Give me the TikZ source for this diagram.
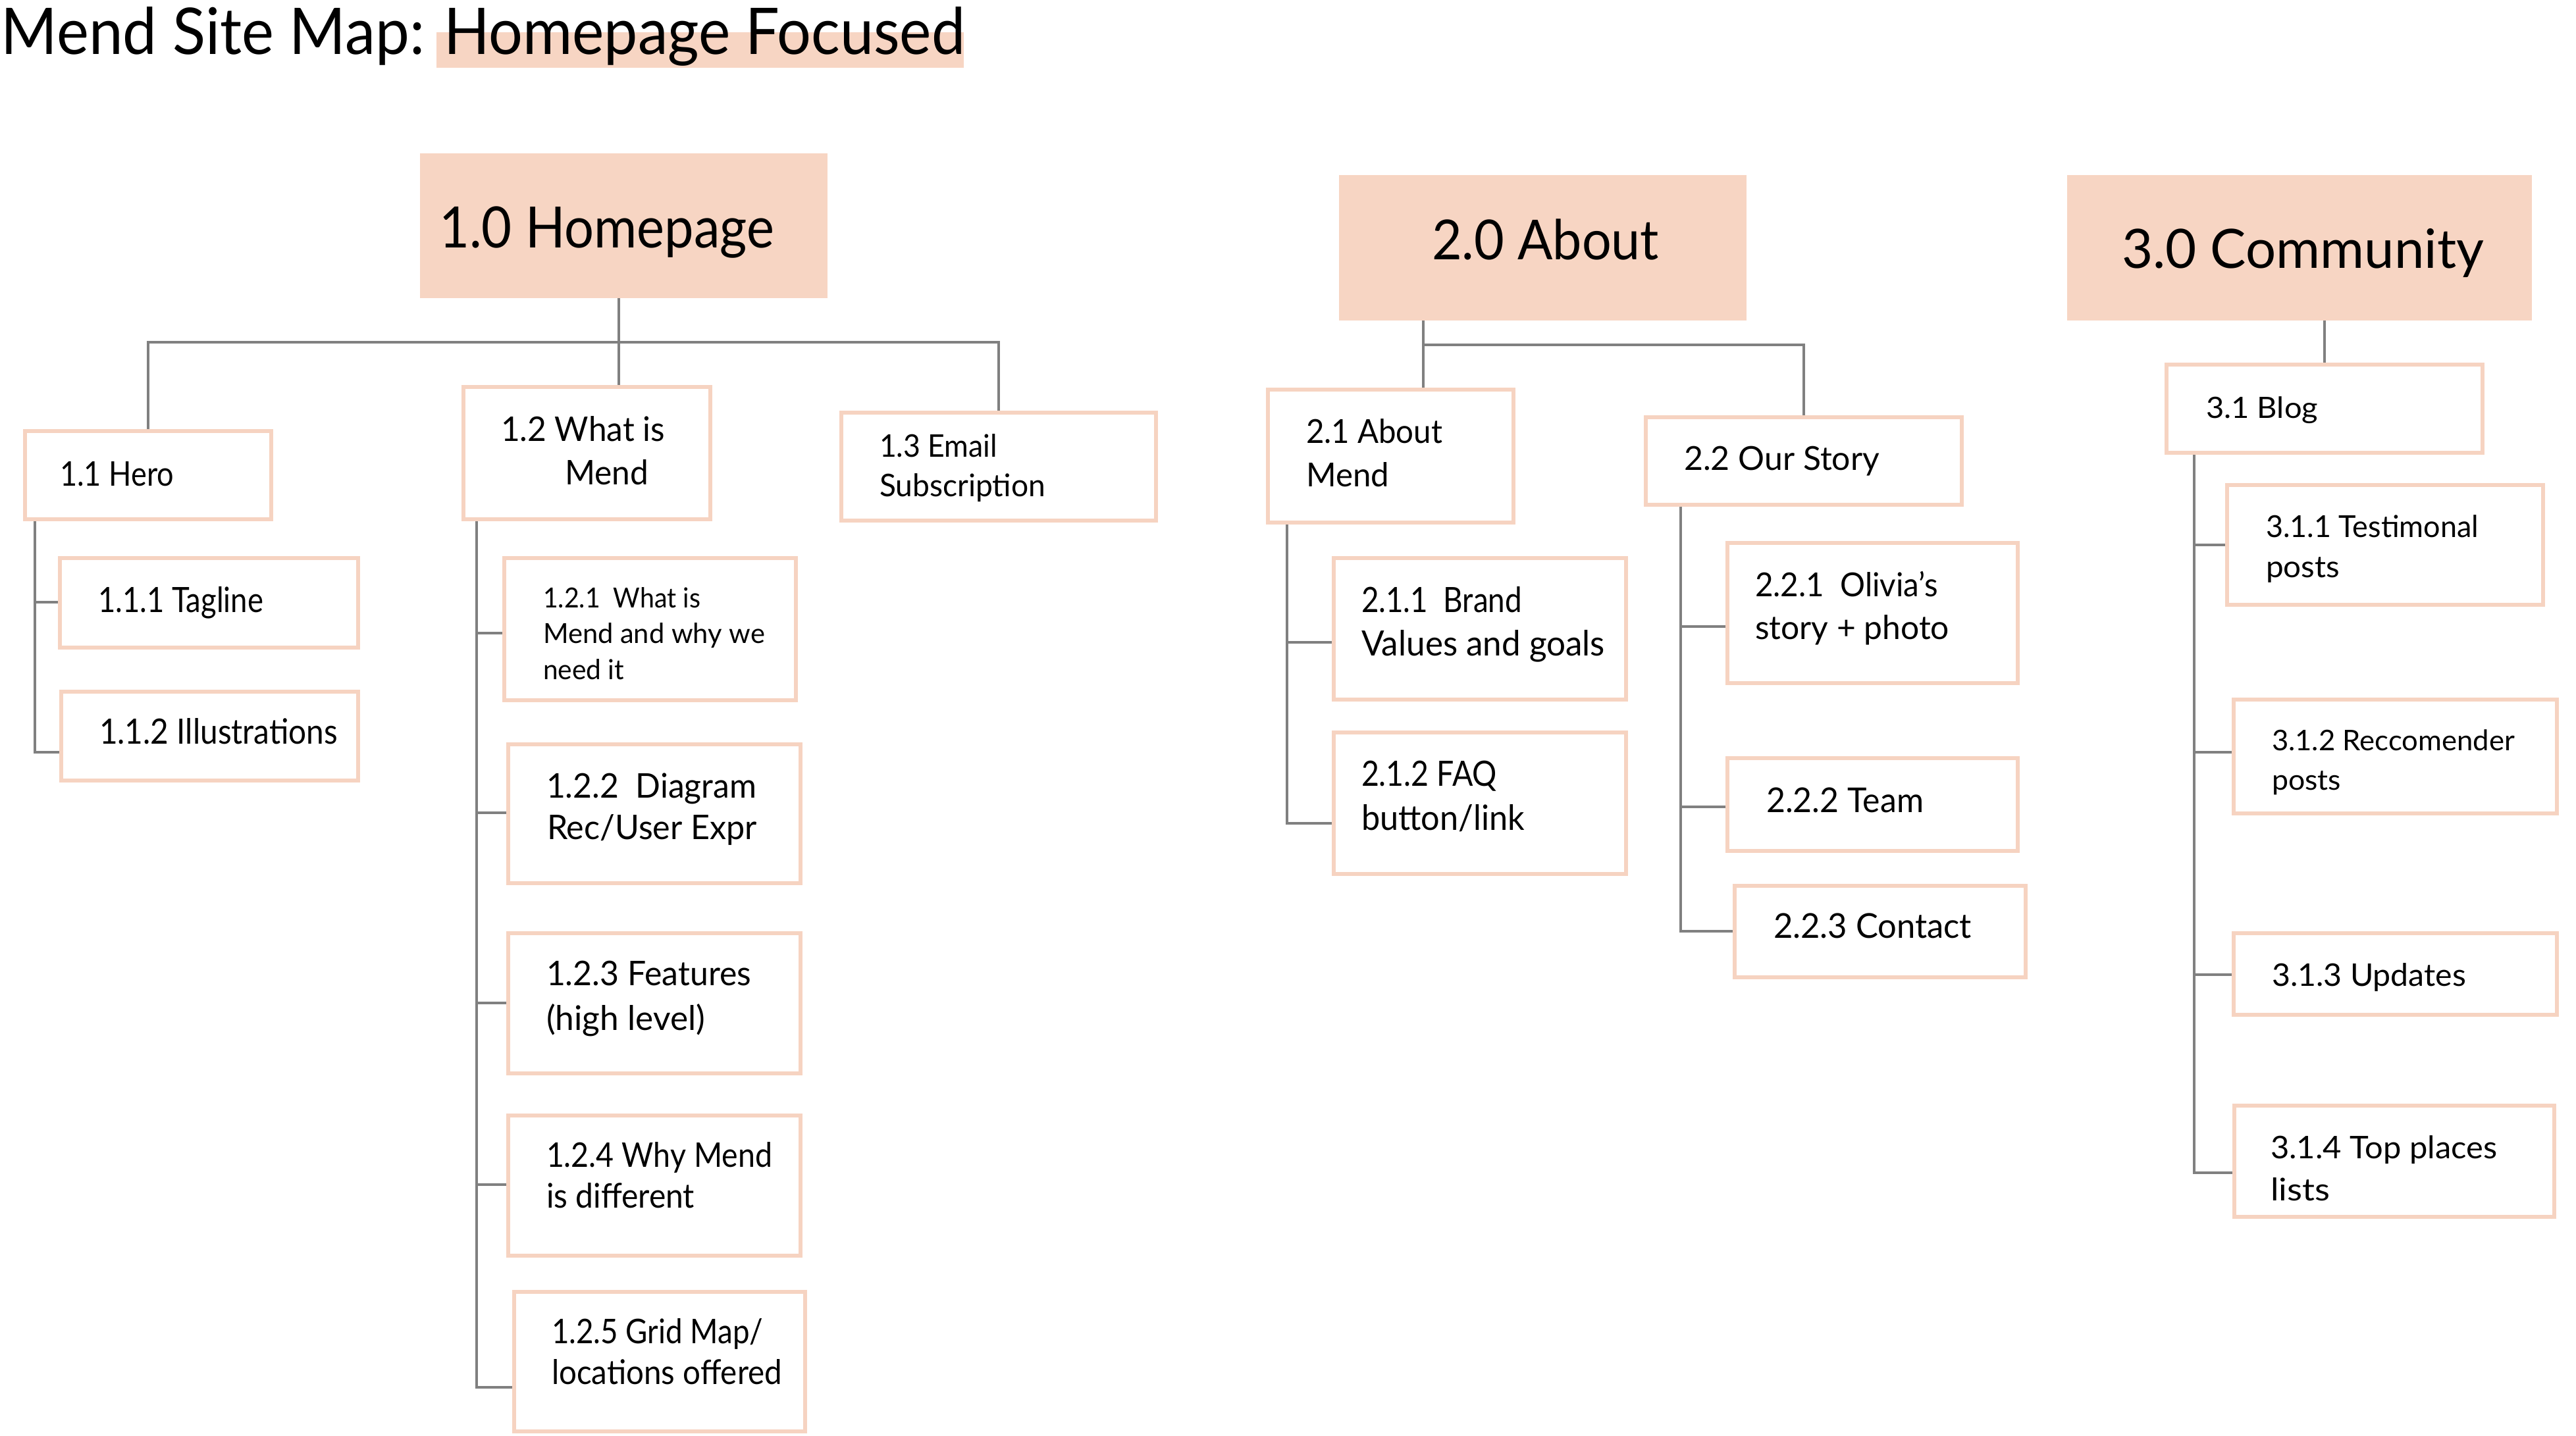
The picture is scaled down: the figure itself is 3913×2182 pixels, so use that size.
\documentclass[tikz,border=0pt]{standalone}
\usepackage{fontspec}
\usepackage{graphicx}
\setmainfont{Lato}
\definecolor{peach}{HTML}{F7D5C3}
\definecolor{edge}{HTML}{F6D3C1}
\definecolor{wire}{HTML}{808080}
\pgfdeclarelayer{bg}
\pgfsetlayers{bg,main}
\newlength\fitlen
\newcommand\fitto[2]{\settowidth{\fitlen}{#2}\pgfmathsetmacro\fitfac{#1*0.5/\fitlen}\scalebox{\fitfac}[1]{#2}}
\newcommand\fsz[1]{\fontsize{#1pt}{#1pt}\selectfont}
\newcommand\tline[6]{\node[txt,font=\fsz{#5}] (#1) at (#2,#3) {\fitto{#4}{#6}};}
\newcommand\mybox[6]{\pgfmathsetmacro\bw{(#5-#3-6)*0.5}\pgfmathsetmacro\bh{(#6-#4-6)*0.5}\node[#1,minimum width=\bw pt,minimum height=\bh pt] (#2) at ({(#3+#5)/2},{(#4+#6)/2}) {};}
\tikzset{
  lvl1/.style={rectangle, fill=peach, draw=peach, line width=3pt, inner sep=0pt, outer sep=0pt},
  lvl2/.style={rectangle, fill=white, draw=edge, line width=3pt, inner sep=0pt, outer sep=0pt},
  conn/.style={draw=wire, line width=2pt},
  txt/.style={anchor=base west, inner sep=0pt, outer sep=0pt, text=black},
}
\begin{document}
\begin{tikzpicture}[x=0.5pt,y=-0.5pt]
\useasboundingbox (0,0) rectangle (3913,2182);

% title
\tline{title1}{2}{83}{643}{48.9}{Mend Site Map:}
\tline{title2}{674}{83}{792}{48.9}{Homepage Focused}

% level 1
\mybox{lvl1}{h10}{638}{233}{1257}{453}
\mybox{lvl1}{h20}{2034}{266}{2653}{487}
\mybox{lvl1}{h30}{3140}{266}{3846}{487}
% level 2
\mybox{lvl2}{h11}{35}{652}{415}{792}
\mybox{lvl2}{h12}{701}{585}{1082}{792}
\mybox{lvl2}{h13}{1275}{624}{1759}{794}
\mybox{lvl2}{h21}{1923}{589}{2302}{797}
\mybox{lvl2}{h22}{2497}{631}{2983}{770}
\mybox{lvl2}{h31}{3288}{551}{3774}{691}
% level 3
\mybox{lvl2}{t111}{88}{845}{547}{987}
\mybox{lvl2}{t112}{90}{1048}{547}{1189}
\mybox{lvl2}{t121}{763}{845}{1212}{1067}
\mybox{lvl2}{t122}{769}{1128}{1219}{1345}
\mybox{lvl2}{t123}{769}{1415}{1219}{1634}
\mybox{lvl2}{t124}{769}{1692}{1219}{1911}
\mybox{lvl2}{t125}{778}{1960}{1226}{2178}
\mybox{lvl2}{t211}{2023}{845}{2473}{1066}
\mybox{lvl2}{t212}{2023}{1110}{2473}{1331}
\mybox{lvl2}{t221}{2621}{822}{3068}{1041}
\mybox{lvl2}{t222}{2621}{1149}{3068}{1296}
\mybox{lvl2}{t223}{2632}{1343}{3080}{1488}
\mybox{lvl2}{t311}{3380}{734}{3866}{922}
\mybox{lvl2}{t312}{3390}{1060}{3887}{1239}
\mybox{lvl2}{t313}{3390}{1415}{3887}{1545}
\mybox{lvl2}{t314}{3391}{1677}{3883}{1852}

% texts
\tline{l10}{667}{377}{509}{43.3}{1.0 Homepage}
\tline{l20}{2175}{395}{345}{41.9}{2.0 About}
\tline{l30}{3223}{408}{550}{41.2}{3.0 Community}
\tline{l11}{91}{738}{173}{25.8}{1.1 Hero}
\tline{l12a}{761}{670}{249}{25.8}{1.2 What is}
\tline{l12b}{858}{736}{127}{25.8}{Mend}
\tline{l13a}{1336}{694}{179}{23.7}{1.3 Email}
\tline{l13b}{1336}{754}{252}{23.7}{Subscription}
\tline{l21a}{1984}{673}{207}{25.1}{2.1 About}
\tline{l21b}{1984}{739}{126}{25.1}{Mend}
\tline{l22}{2558}{714}{297}{25.1}{2.2 Our Story}
\tline{l31}{3351}{635}{170}{22.3}{3.1 Blog}
\tline{l111}{149}{930}{251}{26.5}{1.1.1 Tagline}
\tline{l112}{151}{1130}{362}{26.5}{1.1.2 Illustrations}
\tline{l121a}{825}{923}{239}{21}{1.2.1~ What is}
\tline{l121b}{825}{977}{337}{21}{Mend and why we}
\tline{l121c}{825}{1032}{123}{21}{need it}
\tline{l122a}{830}{1212}{319}{25.8}{1.2.2~ Diagram}
\tline{l122b}{831}{1275}{319}{25.8}{Rec/User Expr}
\tline{l123a}{830}{1497}{311}{25.8}{1.2.3 Features}
\tline{l123b}{830}{1565}{241}{25.8}{(high level)}
\tline{l124a}{830}{1773}{343}{25.8}{1.2.4 Why Mend}
\tline{l124b}{830}{1835}{225}{25.8}{is different}
\tline{l125a}{838}{2041}{321}{25.8}{1.2.5 Grid Map/}
\tline{l125b}{838}{2103}{350}{25.8}{locations offered}
\tline{l211a}{2068}{930}{244}{26.5}{2.1.1~ Brand}
\tline{l211b}{2068}{996}{370}{26.5}{Values and goals}
\tline{l212a}{2068}{1194}{206}{26.5}{2.1.2 FAQ}
\tline{l212b}{2068}{1261}{248}{26.5}{button/link}
\tline{l221a}{2666}{906}{278}{25.1}{2.2.1~ Olivia’s}
\tline{l221b}{2666}{971}{295}{25.1}{story + photo}
\tline{l222}{2683}{1234}{239}{26}{2.2.2 Team}
\tline{l223}{2694}{1425}{301}{26}{2.2.3 Contact}
\tline{l311a}{3442}{816}{323}{23}{3.1.1 Testimonal}
\tline{l311b}{3442}{877}{112}{23}{posts}
\tline{l312a}{3451}{1140}{369}{21.6}{3.1.2 Reccomender}
\tline{l312b}{3451}{1200}{105}{21.6}{posts}
\tline{l313}{3451}{1498}{295}{23.7}{3.1.3 Updates}
\tline{l314a}{3449}{1760}{344}{23.7}{3.1.4 Top places}
\tline{l314b}{3449}{1824}{90}{23.7}{lists}

% junction coordinates
\coordinate (j1) at (940,520);
\coordinate (j2) at (2162,524);
\coordinate (a1) at (53,915);   \coordinate (a2) at (53,1143);
\coordinate (c1) at (724,962);  \coordinate (c2) at (724,1235);
\coordinate (c3) at (724,1524); \coordinate (c4) at (724,1800);
\coordinate (c5) at (724,2108);
\coordinate (d1) at (1955,976); \coordinate (d2) at (1955,1251);
\coordinate (e1) at (2553,952); \coordinate (e2) at (2553,1226);
\coordinate (e3) at (2553,1415);
\coordinate (f1) at (3333,828); \coordinate (f2) at (3333,1143);
\coordinate (f3) at (3333,1481); \coordinate (f4) at (3333,1782);

\begin{pgfonlayer}{bg}
  \fill[white] (0,0) rectangle (3913,2182);
  \fill[peach] (663,49) rectangle (1464,103);
  % homepage
  \draw[conn] (h10.south -| j1) -- (h12.north -| j1);
  \draw[conn] (h11.north) -- (h11.north |- j1) -- (h13.north |- j1) -- (h13.north);
  % about
  \draw[conn] (h20.south -| j2) -- (h21.north -| j2);
  \draw[conn] (j2) -- (h22.north |- j2) -- (h22.north);
  % community
  \draw[conn] (h30.south -| h31.north) -- (h31.north);
  % hero children
  \draw[conn] (h11.south -| a1) -- (a2) -- (a2 -| t112.west);
  \draw[conn] (a1) -- (a1 -| t111.west);
  % 1.2 children
  \draw[conn] (h12.south -| c1) -- (c5) -- (c5 -| t125.west);
  \draw[conn] (c1) -- (c1 -| t121.west);
  \draw[conn] (c2) -- (c2 -| t122.west);
  \draw[conn] (c3) -- (c3 -| t123.west);
  \draw[conn] (c4) -- (c4 -| t124.west);
  % 2.1 children
  \draw[conn] (h21.south -| d1) -- (d2) -- (d2 -| t212.west);
  \draw[conn] (d1) -- (d1 -| t211.west);
  % 2.2 children
  \draw[conn] (h22.south -| e1) -- (e3) -- (e3 -| t223.west);
  \draw[conn] (e1) -- (e1 -| t221.west);
  \draw[conn] (e2) -- (e2 -| t222.west);
  % 3.1 children
  \draw[conn] (h31.south -| f1) -- (f4) -- (f4 -| t314.west);
  \draw[conn] (f1) -- (f1 -| t311.west);
  \draw[conn] (f2) -- (f2 -| t312.west);
  \draw[conn] (f3) -- (f3 -| t313.west);
\end{pgfonlayer}
\end{tikzpicture}
\end{document}
